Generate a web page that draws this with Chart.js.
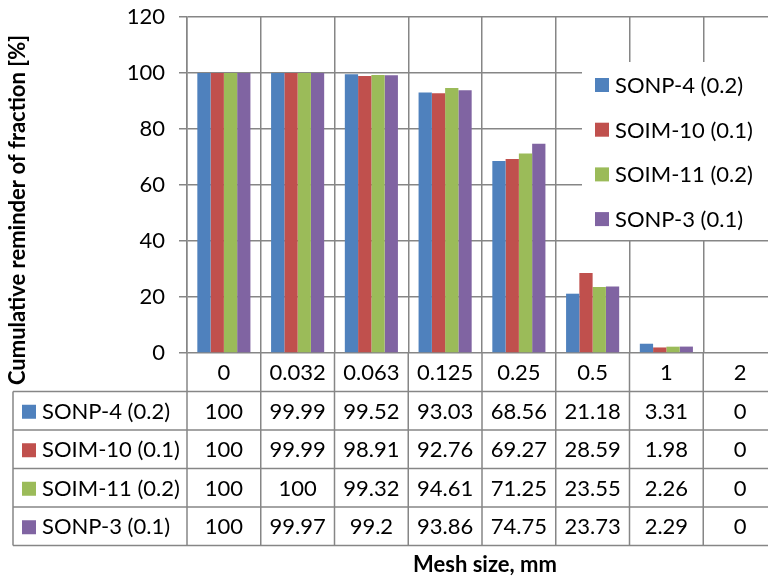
<!DOCTYPE html>
<html>
<head>
<meta charset="utf-8">
<script src="https://cdn.jsdelivr.net/npm/chart.js@4.4.0/dist/chart.umd.min.js"></script>
<style>
  html, body { margin: 0; padding: 0; background: #fff; overflow: hidden; }
  #wrap { width: 768px; height: 576px; overflow: hidden; position: relative; }
</style>
</head>
<body>
<div id="wrap"><canvas id="sieveChart" width="790" height="576"></canvas></div>
<script>
// data
const meshSizes = ['0', '0.032', '0.063', '0.125', '0.25', '0.5', '1', '2'];
const sonp4 = [100, 99.99, 99.52, 93.03, 68.56, 21.18, 3.31, 0];
const soim10 = [100, 99.99, 98.91, 92.76, 69.27, 28.59, 1.98, 0];
const soim11 = [100, 100, 99.32, 94.61, 71.25, 23.55, 2.26, 0];
const sonp3 = [100, 99.97, 99.2, 93.86, 74.75, 23.73, 2.29, 0];
const seriesNames = ['SONP-4 (0.2)', 'SOIM-10 (0.1)', 'SOIM-11 (0.2)', 'SONP-3 (0.1)'];
const yTicks = [0, 20, 40, 60, 80, 100, 120];

const colors = ['#4F81BD', '#C0504D', '#9BBB59', '#8064A2'];
const gridColor = '#868686';
const FONT = 'Lato, "Noto Sans", sans-serif';

// data table + legend + titles, drawn after the bars
const tablePlugin = {
    id: 'dataTable',
    afterDraw(chart) {
        const ctx = chart.ctx;
        const xs = chart.scales.x;
        const area = chart.chartArea;
        const catW = xs.getPixelForValue(1) - xs.getPixelForValue(0);
        const top = area.bottom;
        const headH = 38.5, rowH = 38.5;
        const leftX = 13;
        const bottom = top + headH + rowH * chart.data.datasets.length;

        ctx.save();
        ctx.strokeStyle = gridColor;
        ctx.lineWidth = 1.5;
        ctx.beginPath();
        for (let i = 0; i <= chart.data.datasets.length; i++) {
            const y = top + headH + i * rowH;
            ctx.moveTo(leftX, y);
            ctx.lineTo(chart.width, y);
        }
        ctx.moveTo(leftX, top + headH);
        ctx.lineTo(leftX, bottom);
        for (let i = 0; i <= meshSizes.length; i++) {
            const x = xs.getPixelForValue(0) - catW / 2 + i * catW;
            ctx.moveTo(x, top);
            ctx.lineTo(x, bottom);
        }
        ctx.stroke();

        ctx.fillStyle = '#000';
        ctx.font = '22px ' + FONT;
        ctx.textBaseline = 'middle';
        ctx.textAlign = 'center';
        meshSizes.forEach((m, i) => {
            ctx.fillText(m, xs.getPixelForValue(i), top + headH / 2 + 1);
        });

        chart.data.datasets.forEach((ds, r) => {
            const yc = top + headH + r * rowH + rowH / 2 + 1;
            ctx.fillStyle = ds.backgroundColor;
            ctx.fillRect(leftX + 9, yc - 7, 14, 14);
            ctx.fillStyle = '#000';
            ctx.textAlign = 'left';
            ctx.fillText(ds.label, leftX + 29, yc);
            ctx.textAlign = 'center';
            ds.data.forEach((v, i) => {
                ctx.fillText(String(v), xs.getPixelForValue(i), yc);
            });
        });

        // legend box
        ctx.fillStyle = '#fff';
        ctx.fillRect(582, 62, 200, 178);
        chart.data.datasets.forEach((ds, r) => {
            const yc = 85 + r * 44.7;
            ctx.fillStyle = ds.backgroundColor;
            ctx.fillRect(595, yc - 7, 14, 14);
            ctx.fillStyle = '#000';
            ctx.textAlign = 'left';
            ctx.fillText(ds.label, 615, yc + 1);
        });

        // axis titles
        ctx.font = 'bold 22px ' + FONT;
        ctx.textAlign = 'center';
        ctx.fillText('Mesh size, mm', 485, 565);
        ctx.translate(18, 210);
        ctx.rotate(-Math.PI / 2);
        ctx.fillText('Cumulative reminder of fraction [%]', 0, 0);
        ctx.restore();
    }
};

const ctx = document.getElementById('sieveChart').getContext('2d');
const sieveChart = new Chart(ctx, {
    type: 'bar',
    data: {
        labels: meshSizes,
        datasets: [sonp4, soim10, soim11, sonp3].map((d, i) => ({
            label: seriesNames[i],
            data: d,
            backgroundColor: colors[i],
            borderWidth: 0,
            categoryPercentage: 0.72,
            barPercentage: 1
        }))
    },
    options: {
        responsive: false,
        animation: false,
        layout: { padding: { top: 17, right: 13, left: 0, bottom: 0 } },
        scales: {
            x: {
                ticks: { display: false },
                grid: { offset: true, color: gridColor, lineWidth: 1.5, drawTicks: false },
                border: { display: false },
                afterFit: s => { s.height = 223; s.paddingLeft = 0; s.paddingRight = 0; }
            },
            y: {
                min: 0,
                max: 120,
                afterBuildTicks: s => { s.ticks = yTicks.map(v => ({ value: v })); },
                ticks: { color: '#000', padding: 14, font: { family: FONT, size: 22 } },
                grid: { color: gridColor, lineWidth: 1.5, tickLength: 8 },
                border: { display: true, color: gridColor, width: 1.5 },
                afterFit: s => { s.width = 187; s.paddingTop = 0; s.paddingBottom = 0; }
            }
        },
        plugins: {
            legend: { display: false },
            tooltip: { enabled: false }
        }
    },
    plugins: [tablePlugin]
});
</script>
</body>
</html>
